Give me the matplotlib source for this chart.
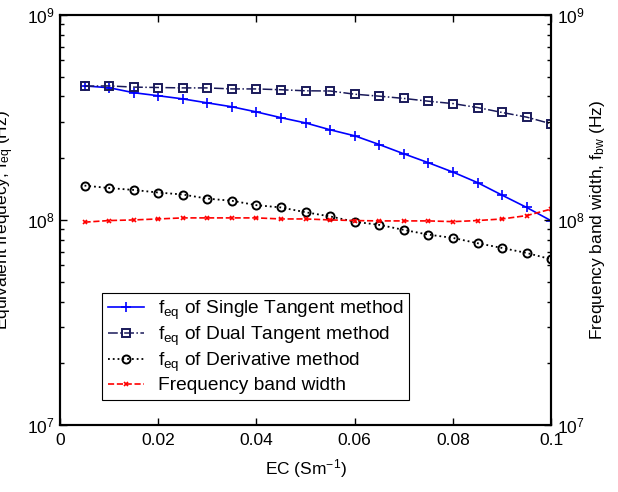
import numpy as np
import matplotlib.pyplot as plt
from matplotlib.ticker import LogLocator, NullFormatter, FixedLocator

plt.rcParams['font.family'] = ['Liberation Sans', 'DejaVu Sans']
plt.rcParams['mathtext.fontset'] = 'custom'
plt.rcParams['mathtext.rm'] = 'Liberation Sans'
plt.rcParams['mathtext.it'] = 'Liberation Sans'

# EC values (S/m)
ec = [0.005, 0.01, 0.015, 0.02, 0.025, 0.03, 0.035, 0.04, 0.045, 0.05,
      0.055, 0.06, 0.065, 0.07, 0.075, 0.08, 0.085, 0.09, 0.095, 0.1]

# equivalent frequency, single tangent method (Hz)
f_single = [4.50e8, 4.41e8, 4.17e8, 4.03e8, 3.89e8, 3.72e8, 3.56e8, 3.36e8, 3.15e8, 2.97e8,
            2.75e8, 2.57e8, 2.33e8, 2.10e8, 1.90e8, 1.71e8, 1.52e8, 1.32e8, 1.15e8, 0.99e8]
# equivalent frequency, dual tangent method (Hz)
f_dual = [4.49e8, 4.50e8, 4.44e8, 4.42e8, 4.40e8, 4.40e8, 4.35e8, 4.35e8, 4.31e8, 4.26e8,
          4.25e8, 4.10e8, 4.01e8, 3.91e8, 3.79e8, 3.69e8, 3.53e8, 3.34e8, 3.17e8, 2.94e8]
# equivalent frequency, derivative method (Hz)
f_deriv = [1.47e8, 1.43e8, 1.40e8, 1.36e8, 1.33e8, 1.27e8, 1.24e8, 1.18e8, 1.15e8, 1.09e8,
           1.04e8, 0.98e8, 0.946e8, 0.894e8, 0.848e8, 0.817e8, 0.77e8, 0.73e8, 0.69e8, 0.643e8]
# frequency band width (Hz)
f_bw = [0.975e8, 0.993e8, 1.00e8, 1.011e8, 1.023e8, 1.023e8, 1.023e8, 1.023e8, 1.011e8, 1.011e8,
        1.00e8, 0.993e8, 0.989e8, 0.989e8, 0.989e8, 0.981e8, 0.993e8, 1.011e8, 1.05e8, 1.13e8]

xticks = [0, 0.02, 0.04, 0.06, 0.08, 0.1]
xticklabels = ['0', '0.02', '0.04', '0.06', '0.08', '0.1']

fig = plt.figure(figsize=(6.18, 4.92), dpi=100)
ax = fig.add_axes([0.097, 0.136, 0.795, 0.834])
ax2 = ax.twinx()

h1, = ax.plot(ec, f_single, color='#0000ff', ls='-', lw=1.2, marker='+', ms=7, mew=1.2,
              label=r'f$_{\rm eq}$ of Single Tangent method')
h2, = ax.plot(ec, f_dual, color='#1a1a5a', ls='-.', lw=1.1, marker='s', ms=5.5, mew=1.4,
              mfc='none', label=r'f$_{\rm eq}$ of Dual Tangent method')
h3, = ax.plot(ec, f_deriv, color='black', ls=':', lw=1.3, marker='o', ms=5.8, mew=1.4,
              mfc='none', label=r'f$_{\rm eq}$ of Derivative method')
h4, = ax2.plot(ec, f_bw, color='#ff0000', ls='--', lw=1.2, marker='x', ms=3.5, mew=1.2,
               label='Frequency band width')

for a in (ax, ax2):
    a.set_yscale('log')
    a.set_ylim(1e7, 1e9)
    a.set_xlim(0, 0.1)
    a.yaxis.set_major_locator(FixedLocator([1e7, 1e8, 1e9]))
    a.yaxis.set_minor_locator(LogLocator(base=10, subs=np.arange(2, 10)))
    a.yaxis.set_minor_formatter(NullFormatter())
    a.tick_params(which='both', direction='in', labelsize=12.5, width=1)
    a.tick_params(which='major', length=5)
    a.tick_params(which='minor', length=3)
    for s in a.spines.values():
        s.set_linewidth(1.5)

ax.set_xticks(xticks)
ax.set_xticklabels(xticklabels)
ax.tick_params(axis='x', top=True, pad=6)
ax.tick_params(axis='y', pad=4)
ax2.tick_params(axis='y', pad=4)

ax.set_xlabel(r'EC (Sm$^{-1}$)', fontsize=12.5, labelpad=6)
ax.set_ylabel(r'Equivalent frequecy, f$_{\rm eq}$ (Hz)', fontsize=12.5)
ax.yaxis.set_label_coords(-0.089, 0.5)
ax2.set_ylabel(r'Frequency band width, f$_{\rm bw}$ (Hz)', fontsize=12.5)
ax2.yaxis.set_label_coords(1.075, 0.5)

leg = ax2.legend(handles=[h1, h2, h3, h4], loc='lower left',
                 bbox_to_anchor=(0.0855, 0.061), fontsize=13.8, frameon=True,
                 fancybox=False, edgecolor='black', framealpha=1,
                 handlelength=1.9, borderpad=0.3, labelspacing=0.15,
                 handletextpad=0.7, borderaxespad=0)
leg.get_frame().set_linewidth(0.8)

fig.savefig('out.png', dpi=100)
